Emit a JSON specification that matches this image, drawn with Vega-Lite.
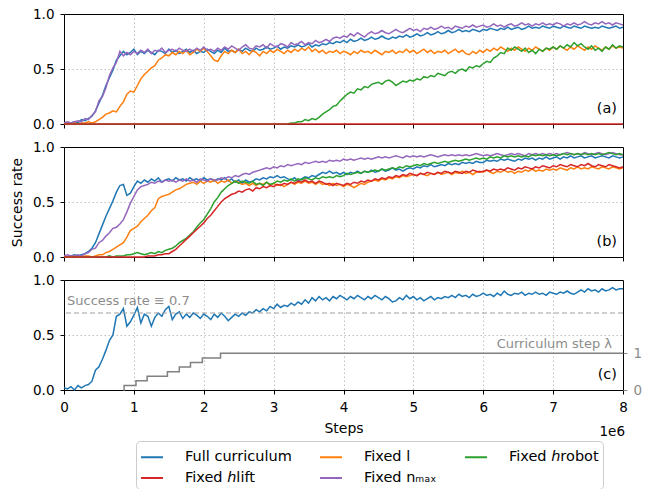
{
"$schema": "https://vega.github.io/schema/vega-lite/v6.json",
"padding": {"left": 10, "top": 6, "right": 4, "bottom": 0},
"spacing": 23,
"bounds": "flush",
"config": {
 "font": "DejaVu Sans",
 "view": {"stroke": "#000000", "strokeWidth": 1},
 "axis": {"labelFontSize": 13.5, "labelColor": "#000000", "titleFontSize": 14, "titleFontWeight": "normal", "titleColor": "#000000", "tickColor": "#000000", "tickSize": 4, "domain": false, "gridColor": "#b0b0b0", "gridDash": [1.5, 2.5], "gridWidth": 0.8, "labelPadding": 6, "labelFlush": false, "labelOverlap": false},
 "legend": {"orient": "none", "legendX": 72, "legendY": 427, "direction": "horizontal", "columns": 3, "symbolType": "stroke", "symbolStrokeWidth": 2, "symbolSize": 484, "labelFontSize": 14.5, "labelColor": "#000000", "strokeColor": "#cccccc", "cornerRadius": 4, "padding": 4, "rowPadding": 2, "columnPadding": 24, "labelOffset": 21, "fillColor": "#ffffff"}
},
"datasets": {
"a": [
{"x":0,"F":0.01,"L":0,"N":0.01,"R":0,"H":0},
{"x":0.05,"F":0,"L":0.01,"N":0.02,"R":0,"H":0},
{"x":0.1,"F":0.01,"L":0,"N":0.01,"R":0,"H":0},
{"x":0.15,"F":0.02,"L":0.01,"N":0.02,"R":0,"H":0},
{"x":0.2,"F":0.01,"L":0,"N":0.03,"R":0,"H":0},
{"x":0.25,"F":0.04,"L":0.01,"N":0.02,"R":0,"H":0},
{"x":0.3,"F":0.03,"L":0.01,"N":0.05,"R":0,"H":0},
{"x":0.35,"F":0.05,"L":0.02,"N":0.04,"R":0,"H":0},
{"x":0.4,"F":0.07,"L":0.01,"N":0.08,"R":0,"H":0},
{"x":0.45,"F":0.12,"L":0.02,"N":0.11,"R":0,"H":0},
{"x":0.5,"F":0.19,"L":0.04,"N":0.21,"R":0,"H":0},
{"x":0.55,"F":0.26,"L":0.06,"N":0.25,"R":0,"H":0},
{"x":0.6,"F":0.35,"L":0.09,"N":0.33,"R":0,"H":0},
{"x":0.65,"F":0.42,"L":0.1,"N":0.44,"R":0,"H":0},
{"x":0.7,"F":0.49,"L":0.12,"N":0.51,"R":0,"H":0},
{"x":0.75,"F":0.58,"L":0.11,"N":0.56,"R":0,"H":0},
{"x":0.8,"F":0.62,"L":0.16,"N":0.66,"R":0,"H":0},
{"x":0.85,"F":0.66,"L":0.2,"N":0.62,"R":0,"H":0},
{"x":0.9,"F":0.63,"L":0.27,"N":0.65,"R":0,"H":0},
{"x":0.95,"F":0.65,"L":0.3,"N":0.63,"R":0,"H":0},
{"x":1,"F":0.68,"L":0.29,"N":0.66,"R":0,"H":0},
{"x":1.05,"F":0.63,"L":0.35,"N":0.64,"R":0,"H":0},
{"x":1.1,"F":0.66,"L":0.41,"N":0.67,"R":0,"H":0},
{"x":1.15,"F":0.64,"L":0.45,"N":0.65,"R":0,"H":0},
{"x":1.2,"F":0.67,"L":0.48,"N":0.68,"R":0,"H":0},
{"x":1.25,"F":0.65,"L":0.51,"N":0.64,"R":0,"H":0},
{"x":1.3,"F":0.63,"L":0.53,"N":0.67,"R":0,"H":0},
{"x":1.35,"F":0.67,"L":0.58,"N":0.66,"R":0,"H":0},
{"x":1.4,"F":0.66,"L":0.6,"N":0.69,"R":0,"H":0},
{"x":1.45,"F":0.64,"L":0.63,"N":0.65,"R":0,"H":0},
{"x":1.5,"F":0.68,"L":0.62,"N":0.67,"R":0,"H":0},
{"x":1.55,"F":0.65,"L":0.65,"N":0.68,"R":0,"H":0},
{"x":1.6,"F":0.67,"L":0.63,"N":0.66,"R":0,"H":0},
{"x":1.65,"F":0.64,"L":0.66,"N":0.69,"R":0,"H":0},
{"x":1.7,"F":0.66,"L":0.64,"N":0.67,"R":0,"H":0},
{"x":1.75,"F":0.68,"L":0.67,"N":0.66,"R":0,"H":0},
{"x":1.8,"F":0.65,"L":0.63,"N":0.68,"R":0,"H":0},
{"x":1.85,"F":0.67,"L":0.65,"N":0.66,"R":0,"H":0},
{"x":1.9,"F":0.64,"L":0.68,"N":0.69,"R":0,"H":0},
{"x":1.95,"F":0.66,"L":0.66,"N":0.67,"R":0,"H":0},
{"x":2,"F":0.65,"L":0.69,"N":0.7,"R":0,"H":0},
{"x":2.05,"F":0.68,"L":0.66,"N":0.67,"R":0,"H":0},
{"x":2.1,"F":0.66,"L":0.62,"N":0.68,"R":0,"H":0},
{"x":2.15,"F":0.64,"L":0.58,"N":0.66,"R":0,"H":0},
{"x":2.2,"F":0.67,"L":0.57,"N":0.69,"R":0,"H":0},
{"x":2.25,"F":0.65,"L":0.62,"N":0.67,"R":0,"H":0},
{"x":2.3,"F":0.69,"L":0.66,"N":0.7,"R":0,"H":0},
{"x":2.35,"F":0.66,"L":0.64,"N":0.68,"R":0,"H":0},
{"x":2.4,"F":0.67,"L":0.67,"N":0.71,"R":0,"H":0},
{"x":2.45,"F":0.65,"L":0.65,"N":0.69,"R":0,"H":0},
{"x":2.5,"F":0.68,"L":0.68,"N":0.67,"R":0,"H":0},
{"x":2.55,"F":0.66,"L":0.64,"N":0.7,"R":0,"H":0},
{"x":2.6,"F":0.69,"L":0.66,"N":0.72,"R":0,"H":0},
{"x":2.65,"F":0.67,"L":0.63,"N":0.69,"R":0,"H":0},
{"x":2.7,"F":0.66,"L":0.67,"N":0.68,"R":0,"H":0},
{"x":2.75,"F":0.69,"L":0.65,"N":0.71,"R":0,"H":0},
{"x":2.8,"F":0.67,"L":0.62,"N":0.7,"R":0,"H":0},
{"x":2.85,"F":0.68,"L":0.66,"N":0.72,"R":0,"H":0},
{"x":2.9,"F":0.7,"L":0.64,"N":0.69,"R":0,"H":0},
{"x":2.95,"F":0.68,"L":0.67,"N":0.73,"R":0,"H":0},
{"x":3,"F":0.69,"L":0.65,"N":0.71,"R":0,"H":0},
{"x":3.05,"F":0.71,"L":0.68,"N":0.7,"R":0,"H":0},
{"x":3.1,"F":0.68,"L":0.66,"N":0.73,"R":0,"H":0},
{"x":3.15,"F":0.7,"L":0.64,"N":0.72,"R":0,"H":0},
{"x":3.2,"F":0.69,"L":0.67,"N":0.7,"R":0,"H":0},
{"x":3.25,"F":0.71,"L":0.65,"N":0.74,"R":0.01,"H":0},
{"x":3.3,"F":0.7,"L":0.68,"N":0.72,"R":0.01,"H":0},
{"x":3.35,"F":0.72,"L":0.66,"N":0.73,"R":0.02,"H":0},
{"x":3.4,"F":0.7,"L":0.69,"N":0.75,"R":0.02,"H":0},
{"x":3.45,"F":0.71,"L":0.67,"N":0.72,"R":0.04,"H":0},
{"x":3.5,"F":0.73,"L":0.7,"N":0.74,"R":0.03,"H":0},
{"x":3.55,"F":0.7,"L":0.66,"N":0.73,"R":0.05,"H":0},
{"x":3.6,"F":0.72,"L":0.68,"N":0.76,"R":0.04,"H":0},
{"x":3.65,"F":0.71,"L":0.65,"N":0.74,"R":0.06,"H":0},
{"x":3.7,"F":0.73,"L":0.67,"N":0.75,"R":0.09,"H":0},
{"x":3.75,"F":0.72,"L":0.64,"N":0.77,"R":0.11,"H":0},
{"x":3.8,"F":0.74,"L":0.66,"N":0.75,"R":0.13,"H":0},
{"x":3.85,"F":0.73,"L":0.65,"N":0.78,"R":0.16,"H":0},
{"x":3.9,"F":0.75,"L":0.67,"N":0.79,"R":0.17,"H":0},
{"x":3.95,"F":0.74,"L":0.64,"N":0.78,"R":0.21,"H":0},
{"x":4,"F":0.76,"L":0.66,"N":0.8,"R":0.24,"H":0},
{"x":4.05,"F":0.74,"L":0.65,"N":0.79,"R":0.27,"H":0},
{"x":4.1,"F":0.77,"L":0.63,"N":0.82,"R":0.29,"H":0},
{"x":4.15,"F":0.75,"L":0.66,"N":0.8,"R":0.28,"H":0},
{"x":4.2,"F":0.76,"L":0.64,"N":0.83,"R":0.32,"H":0},
{"x":4.25,"F":0.78,"L":0.67,"N":0.81,"R":0.31,"H":0},
{"x":4.3,"F":0.76,"L":0.65,"N":0.79,"R":0.34,"H":0},
{"x":4.35,"F":0.77,"L":0.66,"N":0.82,"R":0.33,"H":0},
{"x":4.4,"F":0.79,"L":0.64,"N":0.84,"R":0.36,"H":0},
{"x":4.45,"F":0.77,"L":0.67,"N":0.82,"R":0.37,"H":0},
{"x":4.5,"F":0.78,"L":0.65,"N":0.83,"R":0.38,"H":0},
{"x":4.55,"F":0.8,"L":0.63,"N":0.85,"R":0.36,"H":0},
{"x":4.6,"F":0.78,"L":0.66,"N":0.83,"R":0.39,"H":0},
{"x":4.65,"F":0.77,"L":0.65,"N":0.82,"R":0.4,"H":0},
{"x":4.7,"F":0.79,"L":0.67,"N":0.84,"R":0.38,"H":0},
{"x":4.75,"F":0.78,"L":0.64,"N":0.86,"R":0.35,"H":0},
{"x":4.8,"F":0.8,"L":0.66,"N":0.84,"R":0.37,"H":0},
{"x":4.85,"F":0.79,"L":0.65,"N":0.83,"R":0.39,"H":0},
{"x":4.9,"F":0.81,"L":0.68,"N":0.85,"R":0.38,"H":0},
{"x":4.95,"F":0.79,"L":0.65,"N":0.87,"R":0.4,"H":0},
{"x":5,"F":0.8,"L":0.67,"N":0.85,"R":0.39,"H":0},
{"x":5.05,"F":0.82,"L":0.64,"N":0.86,"R":0.41,"H":0},
{"x":5.1,"F":0.8,"L":0.66,"N":0.84,"R":0.4,"H":0},
{"x":5.15,"F":0.81,"L":0.68,"N":0.87,"R":0.43,"H":0},
{"x":5.2,"F":0.83,"L":0.65,"N":0.86,"R":0.42,"H":0},
{"x":5.25,"F":0.81,"L":0.67,"N":0.88,"R":0.44,"H":0},
{"x":5.3,"F":0.82,"L":0.64,"N":0.86,"R":0.43,"H":0},
{"x":5.35,"F":0.84,"L":0.66,"N":0.87,"R":0.46,"H":0},
{"x":5.4,"F":0.82,"L":0.65,"N":0.89,"R":0.45,"H":0},
{"x":5.45,"F":0.83,"L":0.67,"N":0.87,"R":0.44,"H":0},
{"x":5.5,"F":0.85,"L":0.64,"N":0.88,"R":0.47,"H":0},
{"x":5.55,"F":0.83,"L":0.66,"N":0.86,"R":0.48,"H":0},
{"x":5.6,"F":0.84,"L":0.68,"N":0.89,"R":0.46,"H":0},
{"x":5.65,"F":0.86,"L":0.65,"N":0.88,"R":0.49,"H":0},
{"x":5.7,"F":0.84,"L":0.67,"N":0.87,"R":0.5,"H":0},
{"x":5.75,"F":0.85,"L":0.64,"N":0.89,"R":0.48,"H":0},
{"x":5.8,"F":0.84,"L":0.63,"N":0.88,"R":0.52,"H":0},
{"x":5.85,"F":0.86,"L":0.66,"N":0.9,"R":0.51,"H":0},
{"x":5.9,"F":0.85,"L":0.64,"N":0.88,"R":0.53,"H":0},
{"x":5.95,"F":0.84,"L":0.67,"N":0.89,"R":0.52,"H":0},
{"x":6,"F":0.86,"L":0.65,"N":0.9,"R":0.55,"H":0},
{"x":6.05,"F":0.85,"L":0.68,"N":0.88,"R":0.57,"H":0},
{"x":6.1,"F":0.87,"L":0.66,"N":0.89,"R":0.56,"H":0},
{"x":6.15,"F":0.86,"L":0.69,"N":0.91,"R":0.6,"H":0},
{"x":6.2,"F":0.85,"L":0.67,"N":0.89,"R":0.62,"H":0},
{"x":6.25,"F":0.87,"L":0.7,"N":0.9,"R":0.65,"H":0},
{"x":6.3,"F":0.86,"L":0.68,"N":0.88,"R":0.64,"H":0},
{"x":6.35,"F":0.88,"L":0.66,"N":0.9,"R":0.69,"H":0},
{"x":6.4,"F":0.86,"L":0.69,"N":0.91,"R":0.67,"H":0},
{"x":6.45,"F":0.87,"L":0.67,"N":0.89,"R":0.7,"H":0},
{"x":6.5,"F":0.88,"L":0.7,"N":0.9,"R":0.68,"H":0},
{"x":6.55,"F":0.86,"L":0.68,"N":0.92,"R":0.66,"H":0},
{"x":6.6,"F":0.87,"L":0.66,"N":0.9,"R":0.69,"H":0},
{"x":6.65,"F":0.89,"L":0.69,"N":0.91,"R":0.65,"H":0},
{"x":6.7,"F":0.87,"L":0.67,"N":0.89,"R":0.67,"H":0},
{"x":6.75,"F":0.88,"L":0.7,"N":0.91,"R":0.64,"H":0},
{"x":6.8,"F":0.87,"L":0.68,"N":0.9,"R":0.68,"H":0},
{"x":6.85,"F":0.89,"L":0.66,"N":0.92,"R":0.66,"H":0},
{"x":6.9,"F":0.88,"L":0.69,"N":0.9,"R":0.69,"H":0},
{"x":6.95,"F":0.87,"L":0.67,"N":0.91,"R":0.68,"H":0},
{"x":7,"F":0.89,"L":0.7,"N":0.9,"R":0.7,"H":0},
{"x":7.05,"F":0.88,"L":0.68,"N":0.92,"R":0.68,"H":0},
{"x":7.1,"F":0.87,"L":0.71,"N":0.91,"R":0.71,"H":0},
{"x":7.15,"F":0.89,"L":0.69,"N":0.89,"R":0.69,"H":0},
{"x":7.2,"F":0.88,"L":0.67,"N":0.91,"R":0.72,"H":0},
{"x":7.25,"F":0.87,"L":0.7,"N":0.9,"R":0.7,"H":0},
{"x":7.3,"F":0.89,"L":0.68,"N":0.92,"R":0.74,"H":0},
{"x":7.35,"F":0.88,"L":0.71,"N":0.9,"R":0.71,"H":0},
{"x":7.4,"F":0.87,"L":0.69,"N":0.91,"R":0.73,"H":0},
{"x":7.45,"F":0.89,"L":0.67,"N":0.93,"R":0.7,"H":0},
{"x":7.5,"F":0.88,"L":0.7,"N":0.91,"R":0.68,"H":0},
{"x":7.55,"F":0.87,"L":0.68,"N":0.9,"R":0.71,"H":0},
{"x":7.6,"F":0.88,"L":0.71,"N":0.92,"R":0.67,"H":0},
{"x":7.65,"F":0.87,"L":0.69,"N":0.91,"R":0.69,"H":0},
{"x":7.7,"F":0.89,"L":0.67,"N":0.93,"R":0.66,"H":0},
{"x":7.75,"F":0.88,"L":0.7,"N":0.91,"R":0.7,"H":0},
{"x":7.8,"F":0.87,"L":0.68,"N":0.92,"R":0.68,"H":0},
{"x":7.85,"F":0.88,"L":0.71,"N":0.9,"R":0.72,"H":0},
{"x":7.9,"F":0.89,"L":0.69,"N":0.92,"R":0.69,"H":0},
{"x":7.95,"F":0.87,"L":0.7,"N":0.91,"R":0.71,"H":0},
{"x":8,"F":0.88,"L":0.69,"N":0.9,"R":0.7,"H":0}
],
"b": [
{"x":0,"F":0.01,"L":0,"N":0.01,"R":0,"H":0},
{"x":0.05,"F":0,"L":0,"N":0.02,"R":0,"H":0},
{"x":0.1,"F":0.01,"L":0,"N":0.01,"R":0,"H":0},
{"x":0.15,"F":0.02,"L":0.01,"N":0.01,"R":0,"H":0},
{"x":0.2,"F":0.01,"L":0,"N":0.02,"R":0,"H":0},
{"x":0.25,"F":0.02,"L":0,"N":0.01,"R":0,"H":0},
{"x":0.3,"F":0.03,"L":0.01,"N":0.03,"R":0,"H":0},
{"x":0.35,"F":0.05,"L":0.01,"N":0.04,"R":0,"H":0},
{"x":0.4,"F":0.08,"L":0,"N":0.07,"R":0,"H":0},
{"x":0.45,"F":0.13,"L":0.01,"N":0.08,"R":0,"H":0},
{"x":0.5,"F":0.21,"L":0.02,"N":0.13,"R":0,"H":0},
{"x":0.55,"F":0.29,"L":0.02,"N":0.15,"R":0,"H":0},
{"x":0.6,"F":0.37,"L":0.04,"N":0.19,"R":0,"H":0},
{"x":0.65,"F":0.44,"L":0.05,"N":0.22,"R":0.01,"H":0},
{"x":0.7,"F":0.51,"L":0.07,"N":0.26,"R":0,"H":0},
{"x":0.75,"F":0.59,"L":0.09,"N":0.27,"R":0.01,"H":0},
{"x":0.8,"F":0.65,"L":0.11,"N":0.3,"R":0.01,"H":0},
{"x":0.85,"F":0.66,"L":0.13,"N":0.34,"R":0.01,"H":0},
{"x":0.9,"F":0.56,"L":0.18,"N":0.41,"R":0.02,"H":0},
{"x":0.95,"F":0.58,"L":0.24,"N":0.49,"R":0.02,"H":0},
{"x":1,"F":0.64,"L":0.26,"N":0.55,"R":0.03,"H":0},
{"x":1.05,"F":0.69,"L":0.28,"N":0.61,"R":0.04,"H":0},
{"x":1.1,"F":0.67,"L":0.32,"N":0.64,"R":0.03,"H":0},
{"x":1.15,"F":0.7,"L":0.35,"N":0.65,"R":0.02,"H":0},
{"x":1.2,"F":0.68,"L":0.38,"N":0.66,"R":0.03,"H":0.01},
{"x":1.25,"F":0.71,"L":0.42,"N":0.68,"R":0.04,"H":0.01},
{"x":1.3,"F":0.69,"L":0.45,"N":0.67,"R":0.03,"H":0.01},
{"x":1.35,"F":0.72,"L":0.53,"N":0.69,"R":0.05,"H":0.02},
{"x":1.4,"F":0.68,"L":0.55,"N":0.68,"R":0.04,"H":0.02},
{"x":1.45,"F":0.7,"L":0.56,"N":0.7,"R":0.06,"H":0.03},
{"x":1.5,"F":0.71,"L":0.57,"N":0.69,"R":0.07,"H":0.03},
{"x":1.55,"F":0.69,"L":0.59,"N":0.7,"R":0.08,"H":0.05},
{"x":1.6,"F":0.72,"L":0.61,"N":0.68,"R":0.1,"H":0.07},
{"x":1.65,"F":0.7,"L":0.62,"N":0.7,"R":0.13,"H":0.1},
{"x":1.7,"F":0.71,"L":0.64,"N":0.69,"R":0.15,"H":0.13},
{"x":1.75,"F":0.69,"L":0.66,"N":0.71,"R":0.17,"H":0.16},
{"x":1.8,"F":0.72,"L":0.67,"N":0.69,"R":0.2,"H":0.19},
{"x":1.85,"F":0.7,"L":0.68,"N":0.7,"R":0.23,"H":0.22},
{"x":1.9,"F":0.71,"L":0.66,"N":0.68,"R":0.27,"H":0.25},
{"x":1.95,"F":0.69,"L":0.69,"N":0.71,"R":0.31,"H":0.28},
{"x":2,"F":0.72,"L":0.67,"N":0.7,"R":0.34,"H":0.31},
{"x":2.05,"F":0.7,"L":0.69,"N":0.69,"R":0.39,"H":0.35},
{"x":2.1,"F":0.71,"L":0.68,"N":0.71,"R":0.44,"H":0.38},
{"x":2.15,"F":0.69,"L":0.7,"N":0.7,"R":0.5,"H":0.42},
{"x":2.2,"F":0.71,"L":0.67,"N":0.7,"R":0.54,"H":0.46},
{"x":2.25,"F":0.7,"L":0.69,"N":0.72,"R":0.59,"H":0.5},
{"x":2.3,"F":0.72,"L":0.68,"N":0.71,"R":0.62,"H":0.53},
{"x":2.35,"F":0.69,"L":0.7,"N":0.73,"R":0.65,"H":0.55},
{"x":2.4,"F":0.71,"L":0.67,"N":0.72,"R":0.67,"H":0.57},
{"x":2.45,"F":0.68,"L":0.69,"N":0.74,"R":0.69,"H":0.58},
{"x":2.5,"F":0.7,"L":0.68,"N":0.73,"R":0.67,"H":0.6},
{"x":2.55,"F":0.67,"L":0.66,"N":0.75,"R":0.69,"H":0.59},
{"x":2.6,"F":0.7,"L":0.67,"N":0.76,"R":0.68,"H":0.61},
{"x":2.65,"F":0.68,"L":0.65,"N":0.75,"R":0.67,"H":0.62},
{"x":2.7,"F":0.69,"L":0.67,"N":0.77,"R":0.69,"H":0.6},
{"x":2.75,"F":0.71,"L":0.65,"N":0.78,"R":0.66,"H":0.63},
{"x":2.8,"F":0.7,"L":0.67,"N":0.79,"R":0.67,"H":0.62},
{"x":2.85,"F":0.72,"L":0.66,"N":0.8,"R":0.65,"H":0.64},
{"x":2.9,"F":0.71,"L":0.68,"N":0.81,"R":0.68,"H":0.63},
{"x":2.95,"F":0.73,"L":0.65,"N":0.8,"R":0.66,"H":0.65},
{"x":3,"F":0.72,"L":0.67,"N":0.82,"R":0.67,"H":0.64},
{"x":3.05,"F":0.74,"L":0.65,"N":0.81,"R":0.69,"H":0.66},
{"x":3.1,"F":0.72,"L":0.66,"N":0.83,"R":0.68,"H":0.65},
{"x":3.15,"F":0.73,"L":0.64,"N":0.82,"R":0.7,"H":0.67},
{"x":3.2,"F":0.71,"L":0.66,"N":0.84,"R":0.69,"H":0.66},
{"x":3.25,"F":0.7,"L":0.68,"N":0.83,"R":0.71,"H":0.68},
{"x":3.3,"F":0.72,"L":0.66,"N":0.84,"R":0.69,"H":0.67},
{"x":3.35,"F":0.69,"L":0.68,"N":0.85,"R":0.71,"H":0.69},
{"x":3.4,"F":0.71,"L":0.67,"N":0.84,"R":0.7,"H":0.68},
{"x":3.45,"F":0.73,"L":0.69,"N":0.86,"R":0.72,"H":0.7},
{"x":3.5,"F":0.72,"L":0.67,"N":0.85,"R":0.71,"H":0.68},
{"x":3.55,"F":0.74,"L":0.68,"N":0.86,"R":0.7,"H":0.69},
{"x":3.6,"F":0.73,"L":0.66,"N":0.87,"R":0.72,"H":0.67},
{"x":3.65,"F":0.75,"L":0.68,"N":0.86,"R":0.71,"H":0.69},
{"x":3.7,"F":0.77,"L":0.66,"N":0.87,"R":0.73,"H":0.68},
{"x":3.75,"F":0.76,"L":0.67,"N":0.86,"R":0.72,"H":0.66},
{"x":3.8,"F":0.78,"L":0.65,"N":0.88,"R":0.73,"H":0.67},
{"x":3.85,"F":0.76,"L":0.67,"N":0.87,"R":0.72,"H":0.65},
{"x":3.9,"F":0.77,"L":0.65,"N":0.88,"R":0.74,"H":0.67},
{"x":3.95,"F":0.75,"L":0.66,"N":0.87,"R":0.73,"H":0.66},
{"x":4,"F":0.77,"L":0.64,"N":0.89,"R":0.74,"H":0.65},
{"x":4.05,"F":0.75,"L":0.66,"N":0.88,"R":0.76,"H":0.67},
{"x":4.1,"F":0.77,"L":0.65,"N":0.89,"R":0.75,"H":0.66},
{"x":4.15,"F":0.76,"L":0.63,"N":0.88,"R":0.76,"H":0.68},
{"x":4.2,"F":0.78,"L":0.65,"N":0.89,"R":0.77,"H":0.67},
{"x":4.25,"F":0.76,"L":0.67,"N":0.9,"R":0.76,"H":0.69},
{"x":4.3,"F":0.78,"L":0.66,"N":0.89,"R":0.78,"H":0.68},
{"x":4.35,"F":0.77,"L":0.68,"N":0.9,"R":0.77,"H":0.7},
{"x":4.4,"F":0.79,"L":0.69,"N":0.89,"R":0.78,"H":0.69},
{"x":4.45,"F":0.77,"L":0.7,"N":0.9,"R":0.79,"H":0.71},
{"x":4.5,"F":0.78,"L":0.69,"N":0.91,"R":0.78,"H":0.7},
{"x":4.55,"F":0.8,"L":0.71,"N":0.9,"R":0.8,"H":0.72},
{"x":4.6,"F":0.78,"L":0.7,"N":0.91,"R":0.79,"H":0.71},
{"x":4.65,"F":0.79,"L":0.72,"N":0.9,"R":0.8,"H":0.73},
{"x":4.7,"F":0.81,"L":0.71,"N":0.91,"R":0.81,"H":0.72},
{"x":4.75,"F":0.79,"L":0.73,"N":0.92,"R":0.8,"H":0.74},
{"x":4.8,"F":0.8,"L":0.72,"N":0.91,"R":0.82,"H":0.73},
{"x":4.85,"F":0.78,"L":0.74,"N":0.9,"R":0.81,"H":0.75},
{"x":4.9,"F":0.8,"L":0.73,"N":0.92,"R":0.83,"H":0.74},
{"x":4.95,"F":0.81,"L":0.74,"N":0.91,"R":0.82,"H":0.76},
{"x":5,"F":0.8,"L":0.75,"N":0.92,"R":0.83,"H":0.75},
{"x":5.05,"F":0.82,"L":0.74,"N":0.91,"R":0.84,"H":0.74},
{"x":5.1,"F":0.81,"L":0.76,"N":0.92,"R":0.83,"H":0.76},
{"x":5.15,"F":0.83,"L":0.75,"N":0.91,"R":0.85,"H":0.75},
{"x":5.2,"F":0.82,"L":0.74,"N":0.92,"R":0.84,"H":0.77},
{"x":5.25,"F":0.84,"L":0.76,"N":0.93,"R":0.85,"H":0.76},
{"x":5.3,"F":0.82,"L":0.75,"N":0.92,"R":0.86,"H":0.75},
{"x":5.35,"F":0.83,"L":0.77,"N":0.91,"R":0.85,"H":0.77},
{"x":5.4,"F":0.84,"L":0.75,"N":0.92,"R":0.86,"H":0.76},
{"x":5.45,"F":0.83,"L":0.76,"N":0.93,"R":0.87,"H":0.78},
{"x":5.5,"F":0.85,"L":0.77,"N":0.92,"R":0.86,"H":0.77},
{"x":5.55,"F":0.84,"L":0.75,"N":0.93,"R":0.87,"H":0.76},
{"x":5.6,"F":0.85,"L":0.77,"N":0.92,"R":0.88,"H":0.78},
{"x":5.65,"F":0.84,"L":0.76,"N":0.93,"R":0.87,"H":0.77},
{"x":5.7,"F":0.86,"L":0.78,"N":0.92,"R":0.88,"H":0.76},
{"x":5.75,"F":0.85,"L":0.76,"N":0.93,"R":0.89,"H":0.78},
{"x":5.8,"F":0.86,"L":0.77,"N":0.92,"R":0.88,"H":0.77},
{"x":5.85,"F":0.85,"L":0.75,"N":0.93,"R":0.89,"H":0.79},
{"x":5.9,"F":0.87,"L":0.77,"N":0.94,"R":0.9,"H":0.78},
{"x":5.95,"F":0.86,"L":0.78,"N":0.93,"R":0.89,"H":0.77},
{"x":6,"F":0.86,"L":0.77,"N":0.92,"R":0.9,"H":0.78},
{"x":6.05,"F":0.88,"L":0.79,"N":0.93,"R":0.89,"H":0.79},
{"x":6.1,"F":0.87,"L":0.77,"N":0.92,"R":0.91,"H":0.78},
{"x":6.15,"F":0.88,"L":0.76,"N":0.93,"R":0.9,"H":0.8},
{"x":6.2,"F":0.87,"L":0.78,"N":0.94,"R":0.91,"H":0.79},
{"x":6.25,"F":0.89,"L":0.77,"N":0.93,"R":0.9,"H":0.8},
{"x":6.3,"F":0.88,"L":0.79,"N":0.92,"R":0.92,"H":0.79},
{"x":6.35,"F":0.89,"L":0.77,"N":0.93,"R":0.91,"H":0.81},
{"x":6.4,"F":0.88,"L":0.78,"N":0.94,"R":0.92,"H":0.8},
{"x":6.45,"F":0.87,"L":0.76,"N":0.93,"R":0.91,"H":0.79},
{"x":6.5,"F":0.89,"L":0.78,"N":0.94,"R":0.92,"H":0.81},
{"x":6.55,"F":0.88,"L":0.77,"N":0.93,"R":0.91,"H":0.8},
{"x":6.6,"F":0.9,"L":0.79,"N":0.92,"R":0.92,"H":0.82},
{"x":6.65,"F":0.89,"L":0.78,"N":0.94,"R":0.91,"H":0.81},
{"x":6.7,"F":0.9,"L":0.8,"N":0.93,"R":0.93,"H":0.8},
{"x":6.75,"F":0.88,"L":0.78,"N":0.94,"R":0.92,"H":0.82},
{"x":6.8,"F":0.9,"L":0.79,"N":0.93,"R":0.93,"H":0.81},
{"x":6.85,"F":0.89,"L":0.78,"N":0.94,"R":0.92,"H":0.83},
{"x":6.9,"F":0.91,"L":0.8,"N":0.93,"R":0.93,"H":0.82},
{"x":6.95,"F":0.89,"L":0.79,"N":0.94,"R":0.92,"H":0.81},
{"x":7,"F":0.9,"L":0.8,"N":0.93,"R":0.93,"H":0.83},
{"x":7.05,"F":0.91,"L":0.79,"N":0.94,"R":0.92,"H":0.82},
{"x":7.1,"F":0.89,"L":0.81,"N":0.93,"R":0.93,"H":0.84},
{"x":7.15,"F":0.91,"L":0.8,"N":0.94,"R":0.94,"H":0.83},
{"x":7.2,"F":0.9,"L":0.79,"N":0.95,"R":0.93,"H":0.82},
{"x":7.25,"F":0.92,"L":0.81,"N":0.94,"R":0.94,"H":0.84},
{"x":7.3,"F":0.9,"L":0.8,"N":0.93,"R":0.93,"H":0.83},
{"x":7.35,"F":0.91,"L":0.82,"N":0.94,"R":0.94,"H":0.82},
{"x":7.4,"F":0.92,"L":0.8,"N":0.93,"R":0.93,"H":0.84},
{"x":7.45,"F":0.9,"L":0.81,"N":0.95,"R":0.94,"H":0.83},
{"x":7.5,"F":0.91,"L":0.8,"N":0.94,"R":0.93,"H":0.85},
{"x":7.55,"F":0.92,"L":0.82,"N":0.93,"R":0.94,"H":0.83},
{"x":7.6,"F":0.9,"L":0.81,"N":0.94,"R":0.93,"H":0.82},
{"x":7.65,"F":0.91,"L":0.8,"N":0.95,"R":0.94,"H":0.84},
{"x":7.7,"F":0.92,"L":0.82,"N":0.94,"R":0.93,"H":0.83},
{"x":7.75,"F":0.91,"L":0.81,"N":0.93,"R":0.94,"H":0.82},
{"x":7.8,"F":0.9,"L":0.8,"N":0.94,"R":0.95,"H":0.84},
{"x":7.85,"F":0.92,"L":0.82,"N":0.95,"R":0.94,"H":0.83},
{"x":7.9,"F":0.91,"L":0.81,"N":0.94,"R":0.93,"H":0.82},
{"x":7.95,"F":0.9,"L":0.8,"N":0.93,"R":0.94,"H":0.81},
{"x":8,"F":0.91,"L":0.81,"N":0.93,"R":0.93,"H":0.82}
],
"c": [
{"x":0,"F":0.02},{"x":0.05,"F":0.01},{"x":0.1,"F":0.03},{"x":0.15,"F":0},{"x":0.2,"F":0.04},{"x":0.25,"F":0.02},{"x":0.3,"F":0.04},{"x":0.35,"F":0.05},{"x":0.4,"F":0.08},{"x":0.45,"F":0.18},
{"x":0.5,"F":0.21},{"x":0.55,"F":0.28},{"x":0.6,"F":0.36},{"x":0.65,"F":0.45},{"x":0.7,"F":0.5},{"x":0.75,"F":0.67},{"x":0.8,"F":0.69},{"x":0.85,"F":0.74},{"x":0.9,"F":0.58},{"x":0.95,"F":0.62},
{"x":1,"F":0.68},{"x":1.05,"F":0.75},{"x":1.1,"F":0.61},{"x":1.15,"F":0.69},{"x":1.2,"F":0.67},{"x":1.25,"F":0.58},{"x":1.3,"F":0.66},{"x":1.35,"F":0.7},{"x":1.4,"F":0.67},{"x":1.45,"F":0.73},
{"x":1.5,"F":0.76},{"x":1.55,"F":0.64},{"x":1.6,"F":0.69},{"x":1.65,"F":0.71},{"x":1.7,"F":0.65},{"x":1.75,"F":0.69},{"x":1.8,"F":0.66},{"x":1.85,"F":0.7},{"x":1.9,"F":0.68},{"x":1.95,"F":0.65},
{"x":2,"F":0.69},{"x":2.05,"F":0.67},{"x":2.1,"F":0.64},{"x":2.15,"F":0.69},{"x":2.2,"F":0.66},{"x":2.25,"F":0.7},{"x":2.3,"F":0.67},{"x":2.35,"F":0.63},{"x":2.4,"F":0.66},{"x":2.45,"F":0.69},
{"x":2.5,"F":0.67},{"x":2.55,"F":0.7},{"x":2.6,"F":0.68},{"x":2.65,"F":0.71},{"x":2.7,"F":0.7},{"x":2.75,"F":0.73},{"x":2.8,"F":0.71},{"x":2.85,"F":0.74},{"x":2.9,"F":0.72},{"x":2.95,"F":0.76},
{"x":3,"F":0.74},{"x":3.05,"F":0.78},{"x":3.1,"F":0.75},{"x":3.15,"F":0.77},{"x":3.2,"F":0.76},{"x":3.25,"F":0.79},{"x":3.3,"F":0.77},{"x":3.35,"F":0.8},{"x":3.4,"F":0.78},{"x":3.45,"F":0.82},
{"x":3.5,"F":0.79},{"x":3.55,"F":0.84},{"x":3.6,"F":0.81},{"x":3.65,"F":0.85},{"x":3.7,"F":0.82},{"x":3.75,"F":0.84},{"x":3.8,"F":0.81},{"x":3.85,"F":0.85},{"x":3.9,"F":0.83},{"x":3.95,"F":0.86},
{"x":4,"F":0.84},{"x":4.05,"F":0.82},{"x":4.1,"F":0.85},{"x":4.15,"F":0.83},{"x":4.2,"F":0.86},{"x":4.25,"F":0.84},{"x":4.3,"F":0.82},{"x":4.35,"F":0.85},{"x":4.4,"F":0.83},{"x":4.45,"F":0.86},
{"x":4.5,"F":0.84},{"x":4.55,"F":0.82},{"x":4.6,"F":0.85},{"x":4.65,"F":0.83},{"x":4.7,"F":0.8},{"x":4.75,"F":0.81},{"x":4.8,"F":0.84},{"x":4.85,"F":0.82},{"x":4.9,"F":0.86},{"x":4.95,"F":0.83},
{"x":5,"F":0.85},{"x":5.05,"F":0.82},{"x":5.1,"F":0.84},{"x":5.15,"F":0.81},{"x":5.2,"F":0.83},{"x":5.25,"F":0.85},{"x":5.3,"F":0.82},{"x":5.35,"F":0.84},{"x":5.4,"F":0.83},{"x":5.45,"F":0.85},
{"x":5.5,"F":0.84},{"x":5.55,"F":0.86},{"x":5.6,"F":0.84},{"x":5.65,"F":0.87},{"x":5.7,"F":0.85},{"x":5.75,"F":0.86},{"x":5.8,"F":0.84},{"x":5.85,"F":0.87},{"x":5.9,"F":0.85},{"x":5.95,"F":0.86},
{"x":6,"F":0.88},{"x":6.05,"F":0.86},{"x":6.1,"F":0.87},{"x":6.15,"F":0.85},{"x":6.2,"F":0.88},{"x":6.25,"F":0.86},{"x":6.3,"F":0.9},{"x":6.35,"F":0.87},{"x":6.4,"F":0.86},{"x":6.45,"F":0.88},
{"x":6.5,"F":0.87},{"x":6.55,"F":0.89},{"x":6.6,"F":0.86},{"x":6.65,"F":0.88},{"x":6.7,"F":0.87},{"x":6.75,"F":0.89},{"x":6.8,"F":0.87},{"x":6.85,"F":0.88},{"x":6.9,"F":0.86},{"x":6.95,"F":0.89},
{"x":7,"F":0.88},{"x":7.05,"F":0.87},{"x":7.1,"F":0.89},{"x":7.15,"F":0.88},{"x":7.2,"F":0.9},{"x":7.25,"F":0.88},{"x":7.3,"F":0.87},{"x":7.35,"F":0.89},{"x":7.4,"F":0.91},{"x":7.45,"F":0.89},
{"x":7.5,"F":0.92},{"x":7.55,"F":0.9},{"x":7.6,"F":0.91},{"x":7.65,"F":0.89},{"x":7.7,"F":0.92},{"x":7.75,"F":0.9},{"x":7.8,"F":0.91},{"x":7.85,"F":0.93},{"x":7.9,"F":0.91},{"x":7.95,"F":0.92},
{"x":8,"F":0.92}
],
"s": [
{"x":0.85,"v":0},{"x":0.86,"v":0.125},{"x":1.03,"v":0.25},{"x":1.19,"v":0.375},{"x":1.48,"v":0.5},{"x":1.65,"v":0.625},{"x":1.81,"v":0.75},{"x":1.98,"v":0.875},{"x":2.24,"v":1},{"x":8,"v":1}
]
},
"vconcat": [
{
 "width": 559, "height": 110,
 "layer": [
  {"data": {"name": "a"}, "transform": [{"fold": ["F","L","N","R","H"], "as": ["k","v"]}],
   "mark": {"type": "line", "strokeWidth": 1.5},
   "encoding": {
    "x": {"field": "x", "type": "quantitative", "scale": {"domain": [0,8], "nice": false}, "axis": {"values": [0,1,2,3,4,5,6,7,8], "labels": false, "title": null, "gridOpacity": {"condition": {"test": "datum.value == 0 || datum.value == 8", "value": 0}, "value": 1}}},
    "y": {"field": "v", "type": "quantitative", "scale": {"domain": [0,1]}, "axis": {"values": [0,0.5,1], "format": ".1f", "title": null, "gridOpacity": {"condition": {"test": "datum.value == 0 || datum.value == 1", "value": 0}, "value": 1}}},
    "color": {"field": "k", "type": "nominal", "scale": {"domain": ["F","L","R","H","N"], "range": ["#1f77b4","#ff7f0e","#2ca02c","#d62728","#9467bd"]},
     "legend": {"title": null, "labelExpr": "datum.label == 'F' ? 'Full curriculum' : datum.label == 'L' ? 'Fixed l' : datum.label == 'R' ? 'Fixed ℎrobot' : datum.label == 'H' ? 'Fixed ℎlift' : 'Fixed nₘₐₓ'"}}
   }},
  {"data": {"values": [{}]}, "mark": {"type": "text", "text": "(a)", "align": "right", "baseline": "middle", "dx": -6, "dy": -15, "fontSize": 14.5, "color": "#000000"},
   "encoding": {"x": {"datum": 8}, "y": {"datum": 0}}}
 ]
},
{
 "width": 559, "height": 110,
 "layer": [
  {"data": {"name": "b"}, "transform": [{"fold": ["F","L","N","R","H"], "as": ["k","v"]}],
   "mark": {"type": "line", "strokeWidth": 1.5},
   "encoding": {
    "x": {"field": "x", "type": "quantitative", "scale": {"domain": [0,8], "nice": false}, "axis": {"values": [0,1,2,3,4,5,6,7,8], "labels": false, "title": null, "gridOpacity": {"condition": {"test": "datum.value == 0 || datum.value == 8", "value": 0}, "value": 1}}},
    "y": {"field": "v", "type": "quantitative", "scale": {"domain": [0,1]}, "axis": {"values": [0,0.5,1], "format": ".1f", "title": "Success rate", "titlePadding": 8, "gridOpacity": {"condition": {"test": "datum.value == 0 || datum.value == 1", "value": 0}, "value": 1}}},
    "color": {"field": "k", "type": "nominal", "scale": {"domain": ["F","L","R","H","N"], "range": ["#1f77b4","#ff7f0e","#2ca02c","#d62728","#9467bd"]},
     "legend": {"title": null, "labelExpr": "datum.label == 'F' ? 'Full curriculum' : datum.label == 'L' ? 'Fixed l' : datum.label == 'R' ? 'Fixed ℎrobot' : datum.label == 'H' ? 'Fixed ℎlift' : 'Fixed nₘₐₓ'"}}
   }},
  {"data": {"values": [{}]}, "mark": {"type": "text", "text": "(b)", "align": "right", "baseline": "middle", "dx": -6, "dy": -15, "fontSize": 14.5, "color": "#000000"},
   "encoding": {"x": {"datum": 8}, "y": {"datum": 0}}}
 ]
},
{
 "width": 559, "height": 110,
 "layer": [
  {"layer": [
   {"data": {"name": "c"}, "mark": {"type": "line", "color": "#1f77b4", "strokeWidth": 1.5},
    "encoding": {
     "x": {"field": "x", "type": "quantitative", "scale": {"domain": [0,8], "nice": false}, "axis": {"values": [0,1,2,3,4,5,6,7,8], "format": "d", "title": "Steps", "titlePadding": 8, "gridOpacity": {"condition": {"test": "datum.value == 0 || datum.value == 8", "value": 0}, "value": 1}}},
     "y": {"field": "F", "type": "quantitative", "scale": {"domain": [0,1]}, "axis": {"values": [0,0.5,1], "format": ".1f", "title": null, "gridOpacity": {"condition": {"test": "datum.value == 0 || datum.value == 1", "value": 0}, "value": 1}}}
    }},
   {"data": {"values": [{}]}, "mark": {"type": "rule", "color": "#a0a0a0", "strokeDash": [5,3], "strokeWidth": 1.2},
    "encoding": {"y": {"datum": 0.7}}},
   {"data": {"values": [{}]}, "mark": {"type": "text", "text": "Success rate ≡ 0.7", "align": "left", "baseline": "middle", "dx": 3, "dy": -12, "fontSize": 13, "color": "#8c8c8c"},
    "encoding": {"x": {"datum": 0}, "y": {"datum": 0.7}}},
   {"data": {"values": [{}]}, "mark": {"type": "text", "text": "(c)", "align": "right", "baseline": "middle", "dx": -6, "dy": -15, "fontSize": 14.5, "color": "#000000"},
    "encoding": {"x": {"datum": 8}, "y": {"datum": 0}}},
   {"data": {"values": [{}]}, "mark": {"type": "text", "text": "1e6", "align": "right", "baseline": "middle", "dx": 2, "dy": 42, "fontSize": 13.5, "color": "#000000"},
    "encoding": {"x": {"datum": 8}, "y": {"datum": 0}}}
  ]},
  {"layer": [
   {"data": {"name": "s"}, "mark": {"type": "line", "interpolate": "step-after", "color": "#808080", "strokeWidth": 1.5},
    "encoding": {
     "x": {"field": "x", "type": "quantitative"},
     "y": {"field": "v", "type": "quantitative", "scale": {"domain": [0,3]}, "axis": {"orient": "right", "values": [0,1], "format": "d", "title": null, "grid": false, "labelColor": "#8c8c8c", "tickColor": "#8c8c8c"}}
    }},
   {"data": {"values": [{}]}, "mark": {"type": "text", "text": "Curriculum step λ", "align": "right", "baseline": "middle", "dx": -11, "dy": -9, "fontSize": 13, "color": "#8c8c8c"},
    "encoding": {"x": {"datum": 8}, "y": {"datum": 1}}}
  ]}
 ],
 "resolve": {"scale": {"y": "independent"}}
}
]
}
